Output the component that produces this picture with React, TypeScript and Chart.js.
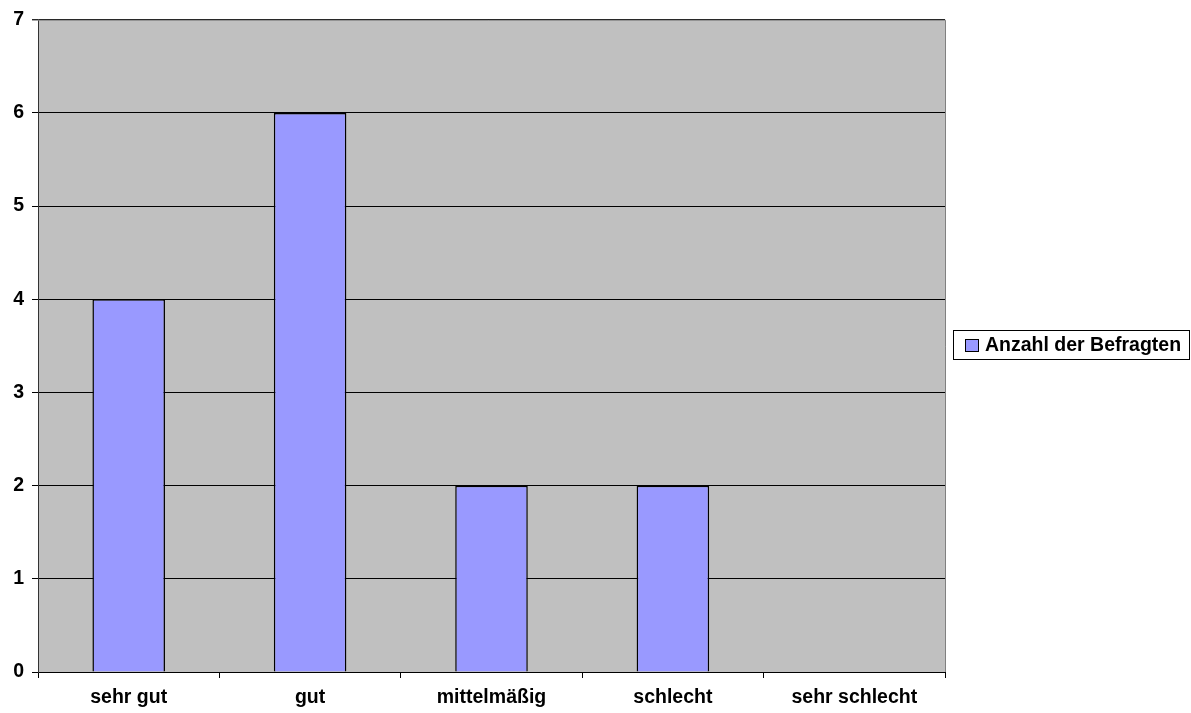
import React, { useEffect, useRef } from "react";
import { Chart, registerables } from "chart.js";

Chart.register(...registerables);

const categories = ["sehr gut", "gut", "mittelmäßig", "schlecht", "sehr schlecht"];
const seriesLabel = "Anzahl der Befragten";
const seriesValues = [4, 6, 2, 2, 0];
const yMin = 0;
const yMax = 7;

const FONT = "'Liberation Sans', Arial, sans-serif";
const FSIZE = 19.5;

const plotBg = {
  id: "plotBg",
  beforeDraw(chart: any) {
    const { ctx, chartArea } = chart;
    ctx.save();
    ctx.fillStyle = "#C0C0C0";
    ctx.fillRect(chartArea.left, chartArea.top, chartArea.right - chartArea.left, chartArea.bottom - chartArea.top);
    ctx.restore();
  },
  afterDraw(chart: any) {
    const { ctx, chartArea } = chart;
    ctx.save();
    ctx.strokeStyle = "#808080";
    ctx.lineWidth = 1;
    ctx.beginPath();
    ctx.moveTo(chartArea.left - 6, chartArea.top + 0.5);
    ctx.lineTo(chartArea.right + 0.5, chartArea.top + 0.5);
    ctx.lineTo(chartArea.right + 0.5, chartArea.bottom);
    ctx.stroke();
    ctx.restore();
  },
};

const boxLegend = {
  id: "boxLegend",
  afterDraw(chart: any) {
    const { ctx } = chart;
    const ds = chart.data.datasets[0];
    const x = 953.5;
    const y = 330.5;
    const w = 236;
    const h = 29;
    ctx.save();
    ctx.fillStyle = "#FFFFFF";
    ctx.fillRect(x, y, w, h);
    ctx.strokeStyle = "#000000";
    ctx.lineWidth = 1;
    ctx.strokeRect(x, y, w, h);
    ctx.fillStyle = ds.backgroundColor;
    ctx.fillRect(965.5, 339.5, 13, 12);
    ctx.strokeRect(965.5, 339.5, 13, 12);
    ctx.fillStyle = "#000000";
    ctx.font = `bold ${FSIZE}px ${FONT}`;
    ctx.textBaseline = "middle";
    ctx.textAlign = "left";
    ctx.fillText(ds.label, 985, 346);
    ctx.restore();
  },
};

export default function App() {
  const ref = useRef<HTMLCanvasElement>(null);
  useEffect(() => {
    const chart = new Chart(ref.current as HTMLCanvasElement, {
      type: "bar",
      data: {
        labels: categories,
        datasets: [
          {
            label: seriesLabel,
            data: seriesValues,
            backgroundColor: "#9999FF",
            borderColor: "#000000",
            borderWidth: 1.5,
            barPercentage: 0.4,
            categoryPercentage: 1,
          },
        ],
      },
      options: {
        responsive: false,
        animation: false,
        layout: { padding: { top: 19, right: 246, left: 0, bottom: 0 } },
        plugins: {
          legend: { display: false },
          tooltip: { enabled: false },
        },
        scales: {
          x: {
            offset: true,
            grid: {
              offset: true,
              drawOnChartArea: false,
              drawTicks: true,
              tickLength: 6,
              color: "#000000",
            },
            border: { color: "#000000", width: 1 },
            ticks: {
              color: "#000000",
              font: { family: FONT, size: FSIZE, weight: "bold" },
              padding: 8,
              maxRotation: 0,
              autoSkip: false,
            },
            afterFit(scale: any) {
              scale.height = 41;
            },
          },
          y: {
            min: yMin,
            max: yMax,
            grid: {
              color: "#000000",
              tickLength: 6,
              drawTicks: true,
            },
            border: { color: "#333333", width: 1 },
            ticks: {
              stepSize: 1,
              color: "#000000",
              font: { family: FONT, size: FSIZE, weight: "bold" },
              padding: 8,
            },
            afterFit(scale: any) {
              scale.width = 38;
            },
          },
        },
      },
      plugins: [plotBg, boxLegend],
    });
    return () => chart.destroy();
  }, []);
  return (
    <div style={{ position: "absolute", left: 0, top: 0, width: 1191, height: 713, background: "#fff" }}>
      <canvas ref={ref} width={1191} height={713} style={{ width: 1191, height: 713 }} />
    </div>
  );
}
